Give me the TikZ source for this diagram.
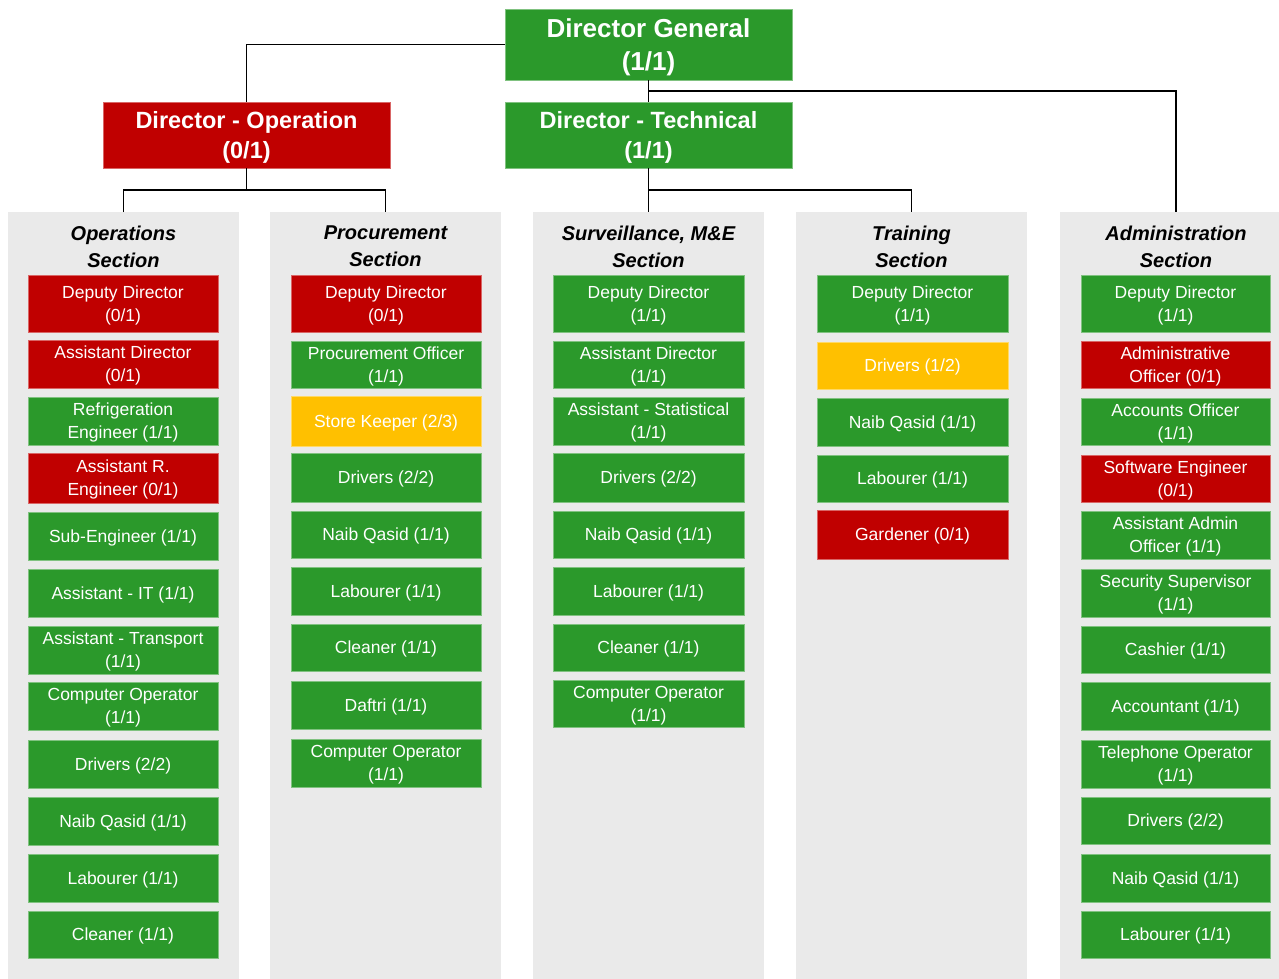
\documentclass[tikz,border=0pt]{standalone}
\usepackage{fontspec}
\setmainfont{Liberation Sans}
\definecolor{gr}{HTML}{2B992B}
\definecolor{rd}{HTML}{C00000}
\definecolor{yl}{HTML}{FFC000}
\definecolor{pnl}{HTML}{EAEAEA}
\tikzset{
  box/.style={draw=#1!60!white, line width=0.6pt, fill=#1, text=white, align=center,
    inner sep=0pt, outer sep=0pt, text depth=-1.5pt, font=\fontsize{17.5}{23}\selectfont},
  titlebox/.style={box=#1, text depth=-3pt},
  panelbox/.style={fill=pnl, inner sep=0pt, outer sep=0pt},
  headtxt/.style={align=center, inner sep=0pt, font=\fontsize{20}{27}\selectfont\bfseries\itshape},
  conn/.style={draw=black, line width=1.6pt}
}
\newcommand\bx[7]{\node[box=#6, minimum width={#4-#2}, minimum height={#5-#3}, anchor=north west] (#1) at (#2,#3) {#7};}
\newcommand\pn[5]{\node[panelbox, minimum width={#4-#2}, minimum height={979-#3}, anchor=north west] (#1) at (#2,#3) {};\node[headtxt] (h#1) at ({(#2+#4)/2},246.5) {#5};}
\begin{document}
\begin{tikzpicture}[x=1pt,y=-1pt]
\useasboundingbox (0,0) rectangle (1279,979);
% panels
\pn{ops}{8}{212}{239}{Operations\\Section}
\pn{proc}{270}{212}{501}{Procurement\\Section}
\pn{surv}{533}{212}{764}{Surveillance, M\&E\\Section}
\pn{trn}{796}{212}{1027}{Training\\Section}
\pn{adm}{1060}{212}{1292}{Administration\\Section}
% top boxes
\node[titlebox=gr, minimum width=287, minimum height=71, anchor=north west,
  font=\fontsize{26}{33}\selectfont\bfseries] (dg) at (505,9) {Director General\\(1/1)};
\node[titlebox=rd, minimum width=287, minimum height=66, anchor=north west,
  font=\fontsize{23.5}{30}\selectfont\bfseries] (do) at (103,102) {Director - Operation\\(0/1)};
\node[titlebox=gr, minimum width=287, minimum height=66, anchor=north west,
  font=\fontsize{23.5}{30}\selectfont\bfseries] (dt) at (505,102) {Director - Technical\\(1/1)};
% connectors
\coordinate (j1) at (648.5,91);
\coordinate (j2) at (246.5,190);
\coordinate (j3) at (648.5,190);
\draw[conn] (dg.west) -| (do.north);
\draw[conn] (dg.south) -- (dt.north);
\draw[conn] (j1) -| (adm.north);
\draw[conn] (do.south) -- (j2);
\draw[conn] (ops.north) |- (j2) -| (proc.north);
\draw[conn] (dt.south) -- (surv.north);
\draw[conn] (j3) -| (trn.north);
% Operations
\bx{o1}{28}{275}{218}{332}{rd}{Deputy Director\\(0/1)}
\bx{o2}{28}{340}{218}{388}{rd}{Assistant Director\\(0/1)}
\bx{o3}{28}{397}{218}{445}{gr}{Refrigeration\\Engineer (1/1)}
\bx{o4}{28}{453}{218}{503}{rd}{Assistant R.\\Engineer (0/1)}
\bx{o5}{28}{512}{218}{560}{gr}{Sub-Engineer (1/1)}
\bx{o6}{28}{569}{218}{617}{gr}{Assistant - IT (1/1)}
\bx{o7}{28}{626}{218}{674}{gr}{Assistant - Transport\\(1/1)}
\bx{o8}{28}{682}{218}{730}{gr}{Computer Operator\\(1/1)}
\bx{o9}{28}{740}{218}{788}{gr}{Drivers (2/2)}
\bx{o10}{28}{797}{218}{845}{gr}{Naib Qasid (1/1)}
\bx{o11}{28}{854}{218}{902}{gr}{Labourer (1/1)}
\bx{o12}{28}{911}{218}{958}{gr}{Cleaner (1/1)}
% Procurement
\bx{p1}{291}{275}{481}{332}{rd}{Deputy Director\\(0/1)}
\bx{p2}{291}{341}{481}{388}{gr}{Procurement Officer\\(1/1)}
\bx{p3}{291}{396}{481}{446}{yl}{Store Keeper (2/3)}
\bx{p4}{291}{453}{481}{502}{gr}{Drivers (2/2)}
\bx{p5}{291}{511}{481}{558}{gr}{Naib Qasid (1/1)}
\bx{p6}{291}{567}{481}{615}{gr}{Labourer (1/1)}
\bx{p7}{291}{624}{481}{671}{gr}{Cleaner (1/1)}
\bx{p8}{291}{681}{481}{729}{gr}{Daftri (1/1)}
\bx{p9}{291}{739}{481}{787}{gr}{Computer Operator\\(1/1)}
% Surveillance
\bx{s1}{553}{275}{744}{332}{gr}{Deputy Director\\(1/1)}
\bx{s2}{553}{341}{744}{388}{gr}{Assistant Director\\(1/1)}
\bx{s3}{553}{397}{744}{445}{gr}{Assistant - Statistical\\(1/1)}
\bx{s4}{553}{453}{744}{502}{gr}{Drivers (2/2)}
\bx{s5}{553}{511}{744}{558}{gr}{Naib Qasid (1/1)}
\bx{s6}{553}{567}{744}{615}{gr}{Labourer (1/1)}
\bx{s7}{553}{624}{744}{671}{gr}{Cleaner (1/1)}
\bx{s8}{553}{680}{744}{727}{gr}{Computer Operator\\(1/1)}
% Training
\bx{t1}{817}{275}{1008}{332}{gr}{Deputy Director\\(1/1)}
\bx{t2}{817}{342}{1008}{389}{yl}{Drivers (1/2)}
\bx{t3}{817}{398}{1008}{446}{gr}{Naib Qasid (1/1)}
\bx{t4}{817}{455}{1008}{502}{gr}{Labourer (1/1)}
\bx{t5}{817}{510}{1008}{559}{rd}{Gardener (0/1)}
% Administration
\bx{a1}{1081}{275}{1270}{332}{gr}{Deputy Director\\(1/1)}
\bx{a2}{1081}{341}{1270}{388}{rd}{Administrative\\Officer (0/1)}
\bx{a3}{1081}{398}{1270}{445}{gr}{Accounts Officer\\(1/1)}
\bx{a4}{1081}{455}{1270}{502}{rd}{Software Engineer\\(0/1)}
\bx{a5}{1081}{511}{1270}{559}{gr}{Assistant Admin\\Officer (1/1)}
\bx{a6}{1081}{569}{1270}{617}{gr}{Security Supervisor\\(1/1)}
\bx{a7}{1081}{626}{1270}{673}{gr}{Cashier (1/1)}
\bx{a8}{1081}{682}{1270}{730}{gr}{Accountant (1/1)}
\bx{a9}{1081}{740}{1270}{788}{gr}{Telephone Operator\\(1/1)}
\bx{a10}{1081}{797}{1270}{844}{gr}{Drivers (2/2)}
\bx{a11}{1081}{854}{1270}{902}{gr}{Naib Qasid (1/1)}
\bx{a12}{1081}{911}{1270}{958}{gr}{Labourer (1/1)}
\end{tikzpicture}
\end{document}
